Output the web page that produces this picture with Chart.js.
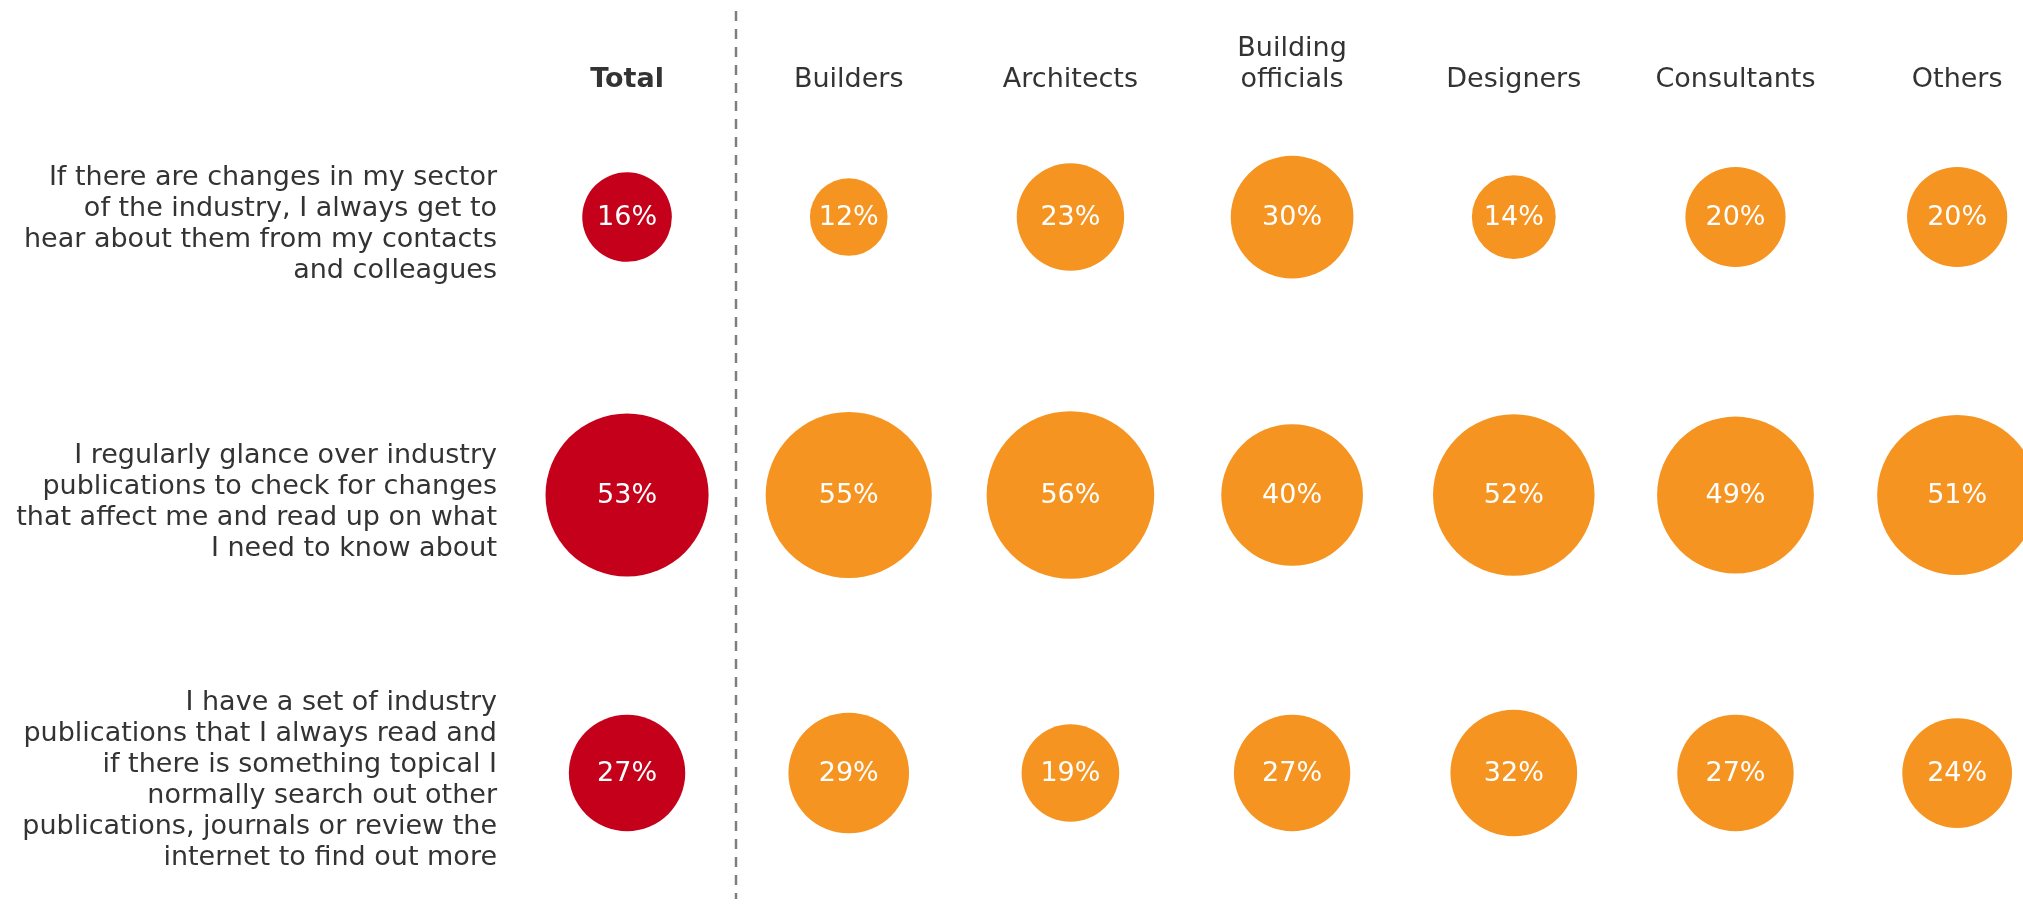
<!DOCTYPE html>
<html>
<head>
<meta charset="utf-8">
<script src="https://cdn.jsdelivr.net/npm/chart.js@4/dist/chart.umd.min.js"></script>
<style>
  html, body { margin: 0; padding: 0; background: #ffffff; }
  #wrap { width: 2023px; height: 907px; position: relative; }
</style>
</head>
<body>
<div id="wrap"><canvas id="c"></canvas></div>
<script>
// ---- data ----
const groups = ['Total', 'Builders', 'Architects', ['Building', 'officials'], 'Designers', 'Consultants', 'Others'];
const statements = [
  ['If there are changes in my sector', 'of the industry, I always get to', 'hear about them from my contacts', 'and colleagues'],
  ['I regularly glance over industry', 'publications to check for changes', 'that affect me and read up on what', 'I need to know about'],
  ['I have a set of industry', 'publications that I always read and', 'if there is something topical I', 'normally search out other', 'publications, journals or review the', 'internet to find out more']
];
const total = [16, 53, 27];
const builders = [12, 55, 29];
const architects = [23, 56, 19];
const buildingOfficials = [30, 40, 27];
const designers = [14, 52, 32];
const consultants = [20, 49, 27];
const others = [20, 51, 24];

// ---- styling / layout ----
const FONT = "'DejaVu Sans', Verdana, sans-serif";
const TEXT = '#333333';
const RED = '#C5001A';
const ORANGE = '#F59420';
const K = 11.2; // radius scale: bubble area proportional to value

const segmentSeries = [builders, architects, buildingOfficials, designers, consultants, others];

function bubbles(values, col) {
  return values.map((v, row) => ({ x: col, y: row, r: K * Math.sqrt(v), v: v }));
}

const totalData = bubbles(total, 0);
const segData = [];
segmentSeries.forEach((s, i) => bubbles(s, i + 1).forEach(p => segData.push(p)));

function noPad(scale) {
  scale.paddingLeft = 0;
  scale.paddingRight = 0;
  scale.paddingTop = 0;
  scale.paddingBottom = 0;
}

const valueLabels = {
  id: 'valueLabels',
  afterDatasetsDraw(chart) {
    const ctx = chart.ctx;
    ctx.save();
    ctx.fillStyle = '#ffffff';
    ctx.font = '27px ' + FONT;
    ctx.textAlign = 'center';
    ctx.textBaseline = 'middle';
    chart.data.datasets.forEach((ds, di) => {
      const meta = chart.getDatasetMeta(di);
      meta.data.forEach((el, i) => {
        ctx.fillText(ds.data[i].v + '%', el.x, el.y + 1);
      });
    });
    ctx.restore();
  }
};

const divider = {
  id: 'divider',
  beforeDatasetsDraw(chart) {
    const ctx = chart.ctx;
    const x = Math.round(chart.scales.x.getPixelForValue(0.5)) - 2;
    ctx.save();
    ctx.strokeStyle = '#7f7f7f';
    ctx.lineWidth = 2.5;
    ctx.setLineDash([10, 8]);
    ctx.beginPath();
    ctx.moveTo(x, 11);
    ctx.lineTo(x, 899);
    ctx.stroke();
    ctx.restore();
  }
};

new Chart(document.getElementById('c'), {
  type: 'bubble',
  data: {
    datasets: [
      { label: 'Total', data: totalData, backgroundColor: RED, borderWidth: 0, hoverRadius: 0 },
      { label: 'Segments', data: segData, backgroundColor: ORANGE, borderWidth: 0, hoverRadius: 0 }
    ]
  },
  options: {
    responsive: true,
    maintainAspectRatio: false,
    animation: false,
    events: [],
    layout: { padding: 0, autoPadding: false },
    plugins: { legend: { display: false }, tooltip: { enabled: false } },
    scales: {
      x: {
        type: 'linear',
        position: 'top',
        min: -0.528,
        max: 6.297,
        border: { display: false },
        grid: { display: false, drawTicks: false },
        afterBuildTicks(scale) { scale.ticks = groups.map((g, i) => ({ value: i })); },
        afterFit(scale) { scale.height = 100; noPad(scale); },
        ticks: {
          autoSkip: false,
          maxRotation: 0,
          minRotation: 0,
          padding: 4,
          color: TEXT,
          font: (ctx) => ({ family: FONT, size: 27, lineHeight: 1.16, weight: ctx.index === 0 ? 'bold' : 'normal' }),
          callback: (v) => groups[v]
        }
      },
      y: {
        type: 'linear',
        position: 'left',
        reverse: true,
        min: -0.421,
        max: 2.482,
        border: { display: false },
        grid: { display: false, drawTicks: false },
        afterBuildTicks(scale) { scale.ticks = statements.map((s, i) => ({ value: i })); },
        afterFit(scale) { scale.width = 510; noPad(scale); },
        ticks: {
          autoSkip: false,
          padding: 13,
          labelOffset: 7,
          color: TEXT,
          font: { family: FONT, size: 27, lineHeight: 1.148 },
          callback: (v) => statements[v]
        }
      }
    }
  },
  plugins: [divider, valueLabels]
});
</script>
</body>
</html>
